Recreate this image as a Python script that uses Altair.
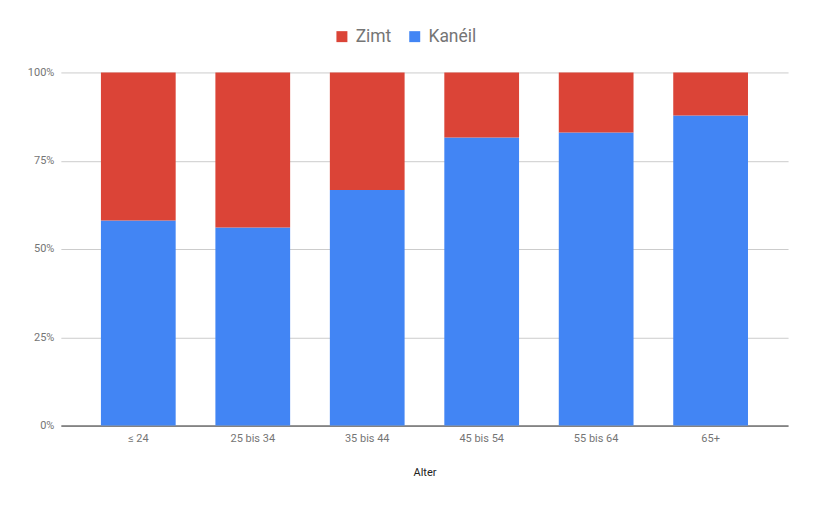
import altair as alt
import pandas as pd

categories = ["≤ 24", "25 bis 34", "35 bis 44", "45 bis 54", "55 bis 64", "65+"]
kaneil = [58.1, 56.1, 66.7, 81.6, 83.0, 87.8]
zimt = [41.9, 43.9, 33.3, 18.4, 17.0, 12.2]
series = ["Zimt", "Kanéil"]
colors = ["#DB4437", "#4285F4"]

rows = []
for c, k, z in zip(categories, kaneil, zimt):
    rows.append({"Alter": c, "Serie": "Kanéil", "Wert": k, "ord": 0})
    rows.append({"Alter": c, "Serie": "Zimt", "Wert": z, "ord": 1})
df = pd.DataFrame(rows)

chart = alt.Chart(df).mark_bar().encode(
    x=alt.X("Alter:N", sort=categories,
            scale=alt.Scale(paddingInner=0.347, paddingOuter=0.35, round=False),
            axis=alt.Axis(title="Alter", labelAngle=0, ticks=False, domainColor="#333333",
                          labelColor="#757575", labelFont="Roboto", labelFontSize=11,
                          labelPadding=7, titleFont="Roboto", titleFontSize=11,
                          titleFontWeight="normal", titleColor="#222222", titlePadding=23,
                          grid=False)),
    y=alt.Y("Wert:Q", stack="normalize",
            axis=alt.Axis(title=None, format=".0%", values=[0, 0.25, 0.5, 0.75, 1],
                          ticks=False, domain=False, labelColor="#757575",
                          labelFont="Roboto", labelFontSize=11, labelPadding=7,
                          gridColor="#cccccc", gridWidth=1)),
    color=alt.Color("Serie:N", scale=alt.Scale(domain=series, range=colors),
                    legend=alt.Legend(title=None, orient="none", direction="horizontal",
                                      legendX=273, legendY=-45, symbolType="square",
                                      symbolSize=121, symbolStrokeWidth=0,
                                      labelFont="Roboto", labelFontSize=17.5,
                                      labelColor="#757575", columnPadding=14,
                                      labelOffset=5, symbolOpacity=1)),
    order=alt.Order("ord:Q"),
).properties(
    width=729, height=354,
    background="white",
    autosize=alt.AutoSizeParams(type="none"),
    padding={"left": 53, "top": 64, "right": 20, "bottom": 60},
).configure_view(stroke=None)

chart.save("out.html", embed_options={"renderer": "svg", "actions": False})
